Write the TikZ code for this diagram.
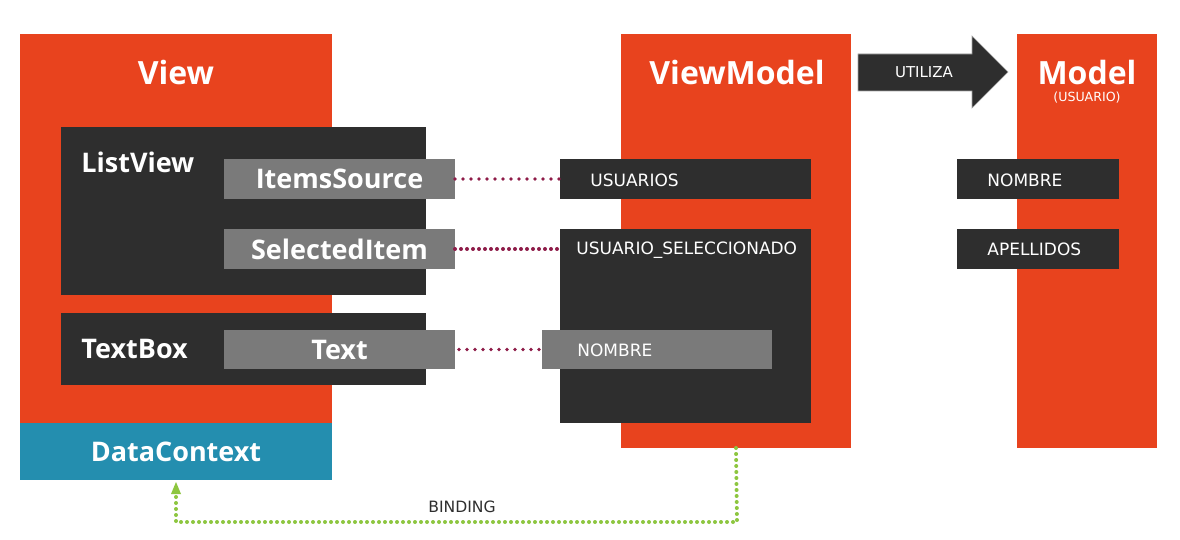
\documentclass[tikz,border=0pt]{standalone}
\usepackage{fontspec}
\setmainfont{Open Sans}
\newfontfamily\lblfont{DejaVu Sans}
\usetikzlibrary{arrows.meta}
\definecolor{ora}{HTML}{E8431E}
\definecolor{drk}{HTML}{2E2E2E}
\definecolor{gry}{HTML}{7A7A7A}
\definecolor{teal}{HTML}{248EAF}
\definecolor{maroon}{HTML}{8E1B48}
\definecolor{grn}{HTML}{8DC63F}
\tikzset{
  rbox/.style n args={3}{draw=none, fill=#1, anchor=north west, inner sep=0pt, outer sep=0pt,
     minimum width=#2*0.5pt, minimum height=#3*0.5pt},
  title/.style={text=white, font=\fontsize{16}{18}\selectfont\bfseries, inner sep=0pt},
  prop/.style={text=white, font=\fontsize{13.5}{16}\selectfont\bfseries, inner sep=0pt},
  lbl/.style={text=white, font=\lblfont\fontsize{8.5}{10}\selectfont, inner sep=0pt},
  dotline/.style={maroon, line width=1.8pt, line cap=round, dash pattern=on 0pt off 4pt},
  dotlineB/.style={maroon, line width=2pt, line cap=round, dash pattern=on 0pt off 3pt},
  bindline/.style={grn, line width=2pt, line cap=round, dash pattern=on 0pt off 3pt},
}
\begin{document}
\begin{tikzpicture}[x=0.5pt,y=-0.5pt]
\useasboundingbox[fill=white] (0,0) rectangle (1180,540);
% View
\node[rbox={ora}{312}{389}] (view) at (20,34) {};
\node[rbox={teal}{312}{57}] (dc) at (20,423) {};
\node[title] (viewT) at (176,73) {View};
\node[prop] (dcT) at (176,452) {DataContext};
\node[rbox={drk}{365}{168}] (lv) at (61,127) {};
\node[prop, anchor=west] (lvT) at (81,162) {ListView};
\node[rbox={gry}{231}{40}] (is) at (224,159) {};
\node[prop] at (is.center) {ItemsSource};
\node[rbox={gry}{231}{40}] (si) at (224,229) {};
\node[prop] at (si.center) {SelectedItem};
\node[rbox={drk}{365}{72}] (tb) at (61,313) {};
\node[prop, anchor=west] (tbT) at (81,349) {TextBox};
\node[rbox={gry}{231}{39}] (tx) at (224,330) {};
\node[prop] at (tx.center) {Text};
% ViewModel
\node[rbox={ora}{230}{414}] (vm) at (621,34) {};
\node[title] (vmT) at (737,73) {ViewModel};
\node[rbox={drk}{251}{40}] (us) at (560,159) {};
\node[lbl, anchor=west] at (590,180) {USUARIOS};
\node[rbox={drk}{251}{194}] (uss) at (560,229) {};
\node[lbl, anchor=west] at (576,250) {USUARIO\_SELECCIONADO};
\node[rbox={gry}{230}{39}] (nm) at (542,330) {};
\node[lbl, anchor=west] at (577,350) {NOMBRE};
% Model
\node[rbox={ora}{140}{414}] (md) at (1017,34) {};
\node[title] (mdT) at (1087,73) {Model};
\node[text=white, font=\lblfont\fontsize{6.3}{7}\selectfont, inner sep=0pt] at (1087,98) {(USUARIO)};
\node[rbox={drk}{162}{40}] (mn) at (957,159) {};
\node[lbl, anchor=west] at (987,180) {NOMBRE};
\node[rbox={drk}{162}{40}] (ma) at (957,229) {};
\node[lbl, anchor=west] at (987,249) {APELLIDOS};
% Arrow UTILIZA
\fill[drk, draw=gray!70, line width=0.3pt] (858,54) -- (972,54) -- (972,36) -- (1008,72) -- (972,108) -- (972,91) -- (858,91) -- cycle;
\node[lbl, font=\lblfont\fontsize{7.5}{9}\selectfont] (ut) at (924,72) {UTILIZA};
% dotted connectors
\draw[dotline] (is.east) -- (us.west);
\draw[dotlineB] (si.east) -- (uss.west |- si.east);
\draw[dotline] ([xshift=2pt]tx.east) -- (nm.west);
% binding
\coordinate (b1) at (737,522);
\coordinate (b2) at (176,522);
\coordinate (bt) at (176,482);
\draw[bindline] (vm.south) -- (b1) -- (b2) -- ([yshift=-5pt]bt);
\fill[grn] (bt) -- ++(-5,12) -- ++(10,0) -- cycle;
\node[text=drk, font=\lblfont\fontsize{7.8}{9}\selectfont, inner sep=0pt] (bl) at (462,507) {BINDING};
\end{tikzpicture}
\end{document}
